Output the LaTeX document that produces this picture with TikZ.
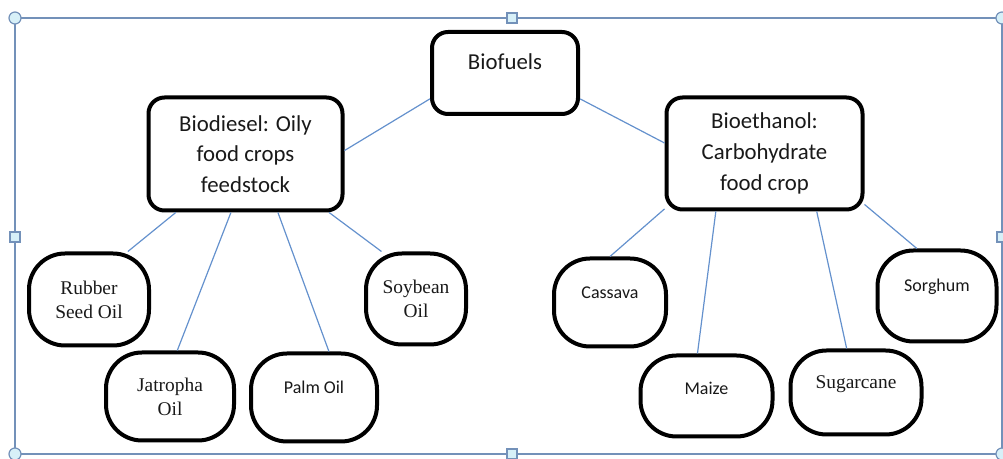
\documentclass[tikz,border=0pt]{standalone}
\usepackage{fontspec}
\setmainfont{Carlito}
\newfontfamily\serifcrop{Liberation Serif}

\definecolor{inkblack}{RGB}{25,25,25}
\definecolor{linkblue}{RGB}{100,145,205}
\definecolor{framegrey}{RGB}{115,145,185}
\definecolor{handlefill}{RGB}{215,240,248}

\tikzset{
    % --- Category box (biofuel type) ---
    block/.style = {
        rectangle, draw, line width=2pt, rounded corners=8pt,
        align=center, text=inkblack,
        font=\fontsize{11.4}{15.3}\selectfont
    },
    % --- Crop box (strongly rounded) ---
    crop/.style = {
        rectangle, draw, line width=2pt, rounded corners=18pt,
        align=center, text=inkblack, inner sep=0pt,
        font=\fontsize{9}{12}\selectfont
    },
    % --- Crop box with serif text ---
    serif crop/.style = {
        crop, font=\serifcrop\fontsize{9.7}{12}\selectfont
    },
    % --- Thin connector line ---
    link/.style = {
        draw=linkblue, line width=0.6pt
    },
    % --- Selection frame and its handles ---
    frame/.style = {
        draw=framegrey, line width=1pt
    },
    handle/.style = {
        draw=framegrey, fill=handlefill, line width=0.6pt
    }
}

\begin{document}
\begin{tikzpicture}[x=0.5pt, y=-0.5pt]
\useasboundingbox (0,0) rectangle (1003,459);

% ---------------------------------------------------------
% Selection frame
% ---------------------------------------------------------
\draw[frame] (15,18) rectangle (1002,454);
\foreach \hx/\hy in {15/18, 1002/18, 15/454, 1002/454}
    \filldraw[handle] (\hx,\hy) circle[radius=6];
\foreach \hx/\hy in {512/18, 15/237, 512/454, 1002/237}
    \filldraw[handle] (\hx-5,\hy-5) rectangle (\hx+5,\hy+5);

% ---------------------------------------------------------
% Top and category boxes
% ---------------------------------------------------------
\node[block, minimum width=73pt, minimum height=41pt, text depth=11pt]
    (fuels) at (505,73) {Biofuels};
\node[block, minimum width=97pt, minimum height=56.5pt]
    (diesel) at (245.5,154) {Biodiesel: Oily\\food crops\\feedstock};
\node[block, minimum width=98pt, minimum height=56pt]
    (ethanol) at (764.5,153.5) {Bioethanol:\\Carbohydrate\\food crop};

% ---------------------------------------------------------
% Oily crops
% ---------------------------------------------------------
\node[serif crop, minimum width=60pt, minimum height=46pt]
    (rubber) at (89,299.5) {Rubber\\Seed Oil};
\node[serif crop, minimum width=64pt, minimum height=44pt]
    (jatropha) at (170,396.5) {Jatropha\\Oil};
\node[crop, minimum width=63pt, minimum height=44pt, text depth=10.5pt]
    (palm) at (314,397.5) {Palm Oil};
\node[serif crop, minimum width=50pt, minimum height=45.5pt]
    (soybean) at (416,299) {Soybean\\Oil};

% ---------------------------------------------------------
% Carbohydrate crops
% ---------------------------------------------------------
\node[crop, minimum width=56pt, minimum height=44pt, text depth=9.5pt]
    (cassava) at (610,302.5) {Cassava};
\node[crop, minimum width=66pt, minimum height=40.5pt, text depth=8pt]
    (maize) at (706.5,396) {Maize};
\node[serif crop, minimum width=65.5pt, minimum height=42pt, text depth=10.5pt]
    (sugarcane) at (856,392.5) {Sugarcane};
\node[crop, minimum width=59.5pt, minimum height=45.5pt, text depth=10.5pt]
    (sorghum) at (937,296) {Sorghum};

% ---------------------------------------------------------
% Connectors
% ---------------------------------------------------------
\foreach \a/\b in {fuels.199/diesel.2, fuels.341/ethanol.174,
                   diesel.220/rubber.51, diesel.256/jatropha.81,
                   diesel.299/palm.72, diesel.325/soybean.126,
                   ethanol.209/cassava.north, ethanol.230/maize.102,
                   ethanol.312/sugarcane.102, ethanol.333/sorghum.113}
    \draw[link] (\a) -- (\b);

\end{tikzpicture}
\end{document}
